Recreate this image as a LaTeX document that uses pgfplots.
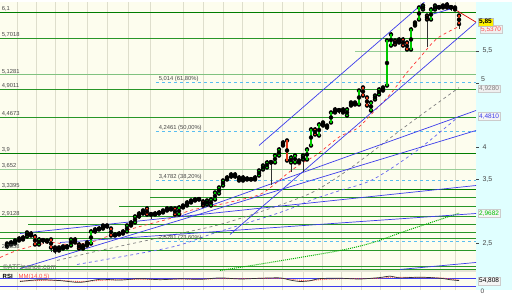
\documentclass[border=0pt]{standalone}
\usepackage{pgfplots}
\usepackage{pgfplotstable}
\pgfplotsset{compat=1.18}
\usepackage{fontspec}
\setmainfont{Liberation Sans}
\definecolor{bgc}{RGB}{253,253,238}
\definecolor{cyanbg}{RGB}{224,255,255}
\definecolor{gridc}{RGB}{222,222,204}
\definecolor{gdark}{RGB}{0,125,0}
\definecolor{gmid}{RGB}{40,150,40}
\definecolor{gpale}{RGB}{150,205,150}
\definecolor{tblue}{RGB}{60,60,235}
\definecolor{fibc}{RGB}{90,190,240}
\definecolor{cup}{RGB}{0,200,0}
\definecolor{cdn}{RGB}{230,60,30}
\definecolor{lbl}{RGB}{70,70,70}
\pgfplotstableread{
x o h l c
7 2.450 2.512 2.418 2.496
11 2.481 2.543 2.450 2.512
15 2.496 2.574 2.465 2.543
19 2.543 2.606 2.512 2.574
23 2.559 2.621 2.528 2.590
27 2.606 2.684 2.574 2.668
31 2.652 2.684 2.590 2.621
35 2.606 2.637 2.450 2.481
39 2.481 2.590 2.450 2.559
43 2.543 2.574 2.496 2.550
47 2.543 2.574 2.496 2.528
51 2.559 2.574 2.356 2.434
55 2.434 2.450 2.325 2.387
59 2.387 2.450 2.356 2.434
63 2.418 2.465 2.387 2.450
67 2.434 2.481 2.403 2.450
71 2.465 2.574 2.434 2.559
75 2.559 2.590 2.481 2.512
79 2.481 2.512 2.403 2.418
83 2.418 2.496 2.387 2.465
87 2.465 2.543 2.434 2.512
91 2.496 2.715 2.481 2.684
95 2.684 2.746 2.652 2.715
99 2.715 2.762 2.684 2.730
103 2.730 2.808 2.699 2.777
107 2.777 2.808 2.730 2.762
111 2.730 2.746 2.590 2.621
115 2.621 2.668 2.590 2.637
119 2.637 2.684 2.606 2.652
123 2.652 2.715 2.621 2.684
127 2.684 2.793 2.668 2.777
131 2.777 2.855 2.746 2.824
135 2.824 2.934 2.808 2.918
139 2.918 2.996 2.886 2.964
143 2.964 3.042 2.933 3.011
147 3.042 3.074 2.933 2.949
151 2.949 2.980 2.886 2.955
155 2.949 2.996 2.918 2.964
159 2.964 3.011 2.933 2.980
163 2.980 3.042 2.949 3.011
167 3.011 3.074 2.980 3.042
171 3.042 3.074 2.996 3.027
175 3.042 3.058 2.933 2.949
179 2.949 3.089 2.933 3.058
183 3.058 3.120 3.042 3.089
187 3.089 3.167 3.074 3.136
191 3.136 3.198 3.120 3.167
195 3.167 3.214 3.136 3.183
199 3.183 3.214 3.152 3.190
203 3.152 3.183 3.058 3.089
207 3.105 3.198 3.074 3.167
211 3.089 3.214 3.074 3.183
215 3.183 3.308 3.167 3.292
219 3.276 3.386 3.261 3.370
223 3.401 3.510 3.386 3.479
227 3.495 3.557 3.464 3.526
231 3.542 3.604 3.510 3.573
235 3.573 3.604 3.510 3.542
239 3.526 3.557 3.448 3.479
243 3.479 3.557 3.464 3.526
247 3.510 3.542 3.464 3.495
251 3.495 3.526 3.464 3.502
255 3.495 3.557 3.479 3.526
259 3.557 3.666 3.526 3.635
263 3.651 3.744 3.635 3.713
267 3.682 3.791 3.666 3.760
271 3.760 3.791 3.401 3.766
275 3.760 3.900 3.729 3.869
279 3.869 3.994 3.838 3.963
283 4.072 4.103 3.994 4.025
287 4.103 4.134 3.760 3.791
291 3.760 3.869 3.604 3.838
295 3.760 3.900 3.729 3.869
299 3.791 3.822 3.729 3.760
303 3.807 3.900 3.604 3.869
307 3.807 3.994 3.776 3.963
311 4.025 4.306 3.994 4.275
315 4.275 4.306 4.166 4.197
319 4.181 4.384 4.150 4.353
323 4.384 4.400 4.306 4.337
327 4.337 4.368 4.259 4.306
331 4.384 4.571 4.353 4.540
335 4.587 4.618 4.509 4.540
339 4.571 4.602 4.509 4.578
343 4.587 4.618 4.509 4.540
347 4.493 4.618 4.462 4.587
351 4.649 4.727 4.618 4.696
355 4.696 4.727 4.634 4.665
359 4.665 4.914 4.634 4.883
363 4.930 4.961 4.774 4.805
367 4.774 4.805 4.618 4.649
371 4.571 4.727 4.540 4.696
375 4.743 4.836 4.712 4.805
379 4.821 4.930 4.790 4.899
383 4.930 4.946 4.852 4.883
387 4.961 5.694 4.930 5.663
391 5.585 5.788 5.554 5.757
395 5.663 5.694 5.570 5.601
399 5.679 5.710 5.601 5.632
403 5.679 5.710 5.554 5.585
407 5.632 5.663 5.492 5.523
411 5.523 5.866 5.492 5.835
415 5.897 5.975 5.866 5.944
419 5.991 6.209 5.960 6.178
423 6.147 6.240 6.116 6.209
427 6.053 6.084 5.554 5.991
431 5.991 6.178 5.960 6.147
435 6.147 6.240 6.116 6.209
439 6.178 6.209 6.147 6.185
443 6.209 6.240 6.147 6.178
447 6.225 6.256 6.147 6.178
451 6.178 6.209 6.131 6.185
455 6.178 6.209 6.116 6.147
459 6.053 6.084 5.835 5.920
}\candles
\pgfplotstableread{
x r
20 50
40 60
60 55
80 45
100 62
120 58
140 66
160 60
180 65
200 62
220 70
240 64
260 68
280 70
290 58
300 50
310 54
320 66
340 68
360 64
380 72
390 80
400 70
420 74
440 68
450 60
459 55
}\rsi
\pgfplotstableread{
x r
20 52
40 56
60 56
80 50
100 56
120 60
140 62
160 62
180 63
200 63
220 66
240 66
260 67
280 67
290 63
300 57
310 55
320 60
340 65
360 66
380 68
390 74
400 73
420 72
440 70
450 64
459 58
}\rsisig
\pgfplotsset{
  hl/.style={forget plot, gmid, line width=0.8pt},
  tl/.style={forget plot, tblue, line width=0.7pt},
}
\tikzset{lab/.style={font=\fontsize{5.8}{6}\selectfont, text=lbl, inner sep=0.6pt}}
\begin{document}
\begin{tikzpicture}[x=1pt,y=1pt]
\fill[bgc] (0,0) rectangle (476,288);
\fill[cyanbg] (476,0) rectangle (512,288);
\fill[gridc!80] (0,18.5) rectangle (476,20.2);
\begin{axis}[at={(0pt,20pt)}, anchor=south west, scale only axis,
  width=476pt, height=268pt,
  xmin=0, xmax=476, ymin=2.075, ymax=6.256,
  axis line style={draw=none},
  xtick={17,36,55,68,87,107,128,150,183,203,223,242,263,282,303,322,341,361,380,400,420,440,455},
  xticklabels={}, xmajorgrids, major x grid style={gridc, line width=0.7pt},
  xtick style={draw=none},
  ytick={2.5,3.5,4,5,5.5}, yticklabels={{2,5},{3,5},{4},{},{5,5}},
  ytick pos=right, yticklabel pos=right,
  tick align=outside, major tick length=2.5pt, ytick style={lbl, line width=0.4pt},
  yticklabel style={font=\fontsize{7}{8}\selectfont, text=lbl, xshift=0.5pt},
  clip mode=individual,
]
% horizontal support / resistance lines
\addplot[hl, gdark, line width=1.3pt] coordinates {(0,6.1) (476,6.1)};
\addplot[hl] coordinates {(0,5.7018) (476,5.7018)};
\addplot[hl, gpale] coordinates {(355,5.5) (476,5.5)};
\addplot[hl, gpale!80!gmid] coordinates {(0,5.1281) (476,5.1281)};
\addplot[hl] coordinates {(0,4.9011) (476,4.9011)};
\addplot[hl] coordinates {(0,4.4673) (476,4.4673)};
\addplot[hl, gdark, line width=1.3pt] coordinates {(0,3.9) (476,3.9)};
\addplot[hl, gpale, line width=1.8pt] coordinates {(0,3.652) (476,3.652)};
\addplot[hl, gdark, line width=1.3pt] coordinates {(0,3.3395) (476,3.3395)};
\addplot[hl] coordinates {(150,3.214) (476,3.214)};
\addplot[hl] coordinates {(119,3.074) (476,3.074)};
\addplot[hl] coordinates {(0,2.9128) (476,2.9128)};
\addplot[hl] coordinates {(28,2.793) (476,2.793)};
\addplot[hl] coordinates {(0,2.668) (476,2.668)};
\addplot[hl] coordinates {(0,2.574) (476,2.574)};
\addplot[hl] coordinates {(0,2.387) (476,2.387)};
\addplot[hl] coordinates {(0,2.138) (476,2.138)};
\addplot[hl] coordinates {(0,2.090) (476,2.090)};
% fibonacci levels
\addplot[forget plot, fibc, dashed, line width=0.7pt] coordinates {(156,5.014) (476,5.014)};
\addplot[forget plot, fibc, dashed, line width=0.7pt] coordinates {(156,4.2461) (476,4.2461)};
\addplot[forget plot, fibc, dashed, line width=0.7pt] coordinates {(156,3.4782) (476,3.4782)};
\addplot[forget plot, fibc, dashed, line width=0.7pt] coordinates {(156,2.5281) (476,2.5281)};
% moving averages
\addplot[forget plot, green!70!black, densely dotted, line width=1pt, smooth] coordinates {(220,2.075) (270,2.200) (340,2.387) (373,2.512) (407,2.699) (459,2.968)};
\addplot[forget plot, tblue!80, dashed, line width=0.7pt, smooth] coordinates {(77,2.169) (170,2.434) (213,2.652) (280,2.980) (313,3.183) (340,3.323) (373,3.495) (417,3.947) (459,4.481)};
\addplot[forget plot, gray, dashed, line width=0.7pt, smooth] coordinates {(57,2.231) (100,2.387) (170,2.621) (220,2.793) (270,3.042) (310,3.276) (340,3.557) (370,3.900) (400,4.259) (430,4.602) (459,4.928)};
\addplot[forget plot, red!80, dashed, line width=0.7pt, smooth] coordinates {(0,2.278) (20,2.403) (50,2.512) (67,2.481) (90,2.512) (110,2.621) (140,2.762) (170,2.886) (190,3.011) (215,3.089) (237,3.167) (260,3.261) (273,3.401) (290,3.620) (303,3.760) (317,3.885) (340,4.166) (357,4.290) (373,4.540) (390,4.821) (407,5.164) (420,5.398) (437,5.694) (459,5.882)};
% trend lines
\addplot[tl] coordinates {(259,4.025) (430,6.34)};
\addplot[tl] coordinates {(230,2.637) (476,5.944)};
\addplot[tl] coordinates {(20,2.106) (476,4.259)};
\addplot[tl] coordinates {(20,2.652) (476,3.401)};
\addplot[tl] coordinates {(180,2.918) (476,4.571)};
\addplot[tl] coordinates {(60,2.512) (476,2.964)};
\addplot[tl] coordinates {(400,2.091) (476,2.200)};
\addplot[tl] coordinates {(425,6.04) (456,6.18)};
\addplot[forget plot, red!85!black, line width=0.7pt] coordinates {(446,6.23) (476,5.95)};
% candles: upper and lower wicks (kept outside the bodies)
\addplot[forget plot, only marks, mark=none, error bars/.cd, y dir=plus, y explicit, error mark=none,
  error bar style={black!80, line width=0.5pt}]
  table[x=x, y expr={max(\thisrow{o},\thisrow{c})}, y error plus expr={\thisrow{h}-max(\thisrow{o},\thisrow{c})}] {\candles};
\addplot[forget plot, only marks, mark=none, error bars/.cd, y dir=minus, y explicit, error mark=none,
  error bar style={black!80, line width=0.5pt}]
  table[x=x, y expr={min(\thisrow{o},\thisrow{c})}, y error minus expr={min(\thisrow{o},\thisrow{c})-\thisrow{l}}] {\candles};
% up bodies
\addplot[forget plot, only marks, mark=none, restrict expr to domain={\thisrow{c}-\thisrow{o}}{0:10},
  error bars/.cd, y dir=both, y explicit, error mark=none,
  error bar style={cup, line width=2.8pt}]
  table[x=x, y expr=(\thisrow{o}+\thisrow{c})/2, y error expr=abs(\thisrow{o}-\thisrow{c})/2+0.006] {\candles};
% down bodies
\addplot[forget plot, only marks, mark=none, restrict expr to domain={\thisrow{c}-\thisrow{o}}{-10:-0.0001},
  error bars/.cd, y dir=both, y explicit, error mark=none,
  error bar style={cdn, line width=2.8pt}]
  table[x=x, y expr=(\thisrow{o}+\thisrow{c})/2, y error expr=abs(\thisrow{o}-\thisrow{c})/2+0.006] {\candles};
% left labels
\node[lab, anchor=south west] at (axis cs:1,6.1) {6,1};
\node[lab, anchor=south west] at (axis cs:1,5.7018) {5,7018};
\node[lab, anchor=south west] at (axis cs:1,5.1281) {5,1281};
\node[lab, anchor=south west] at (axis cs:1,4.9011) {4,9011};
\node[lab, anchor=south west] at (axis cs:1,4.4673) {4,4673};
\node[lab, anchor=south west] at (axis cs:1,3.9) {3,9};
\node[lab, anchor=south west] at (axis cs:1,3.652) {3,652};
\node[lab, anchor=south west] at (axis cs:1,3.3395) {3,3395};
\node[lab, anchor=south west] at (axis cs:1,2.9128) {2,9128};
\node[lab, anchor=south west] at (axis cs:1,2.387) {2,3858};
\node[lab, anchor=south west] at (axis cs:158,5.014) {5,014 (61,80\%)};
\node[lab, anchor=south west] at (axis cs:158,4.2461) {4,2461 (50,00\%)};
\node[lab, anchor=south west] at (axis cs:158,3.4782) {3,4782 (38,20\%)};
\node[lab, anchor=south west] at (axis cs:158,2.5281) {2,5281 (23,60\%)};
\node[lab, anchor=west, text=lbl!80, font=\fontsize{7}{8}\selectfont] at (axis cs:2,2.13) {\copyright ATFinance.com};
% right value boxes
\node[anchor=west, inner sep=0.5pt, text=lbl, font=\fontsize{7}{8}\selectfont] at (axis cs:480.5,5.055) {5};
\node[anchor=west, fill=gray!12, draw=gray!40, inner sep=1pt, text=red!70, font=\fontsize{6.5}{7}\selectfont] at (axis cs:480,5.84) {5,5370};
\node[anchor=west, fill=yellow, draw=gray!50, inner sep=1pt, font=\bfseries\fontsize{6.5}{7}\selectfont] at (axis cs:478,5.95) {5,85};
\node[anchor=west, fill=gray!12, draw=gray!40, inner sep=1pt, text=gray, font=\fontsize{6.5}{7}\selectfont] at (axis cs:478,4.915) {4,9280};
\node[anchor=west, fill=gray!8, draw=gray!40, inner sep=1pt, text=tblue, font=\fontsize{6.5}{7}\selectfont] at (axis cs:478,4.481) {4,4810};
\node[anchor=west, fill=gray!8, draw=gray!40, inner sep=1pt, text=green!75!black, font=\fontsize{6.5}{7}\selectfont] at (axis cs:478,2.9682) {2,9682};
\end{axis}
\begin{axis}[at={(0pt,0pt)}, anchor=south west, scale only axis,
  width=476pt, height=18pt, xmin=0, xmax=476, ymin=0, ymax=100,
  axis line style={draw=none},
  xtick={17,36,55,68,87,107,128,150,183,203,223,242,263,282,303,322,341,361,380,400,420,440,455},
  xticklabels={}, xmajorgrids, major x grid style={gridc, line width=0.7pt},
  xtick style={draw=none}, ytick=\empty, clip mode=individual]
\addplot[forget plot, tblue, line width=0.6pt] coordinates {(0,70) (476,70)};
\addplot[forget plot, tblue, line width=0.6pt] coordinates {(0,25) (476,25)};
\addplot[forget plot, red!70, densely dotted, line width=0.9pt, smooth] table[x=x,y=r] {\rsisig};
\addplot[forget plot, black!80, line width=0.7pt, smooth] table[x=x,y=r] {\rsi};
\node[anchor=west, inner sep=0.5pt, font=\bfseries\fontsize{6}{7}\selectfont] at (axis cs:2,78) {RSI};
\node[anchor=west, inner sep=0.5pt, text=red!70, font=\fontsize{6}{7}\selectfont] at (axis cs:18,78) {MM(14,0,5)};
\node[anchor=west, fill=gray!8, draw=gray!40, inner sep=1pt, font=\fontsize{6.5}{7}\selectfont] at (axis cs:478,52) {54,808};
\node[anchor=west, inner sep=0.5pt, text=lbl, font=\fontsize{6.5}{7}\selectfont] at (axis cs:480,-5) {0};
\end{axis}
\end{tikzpicture}
\end{document}
